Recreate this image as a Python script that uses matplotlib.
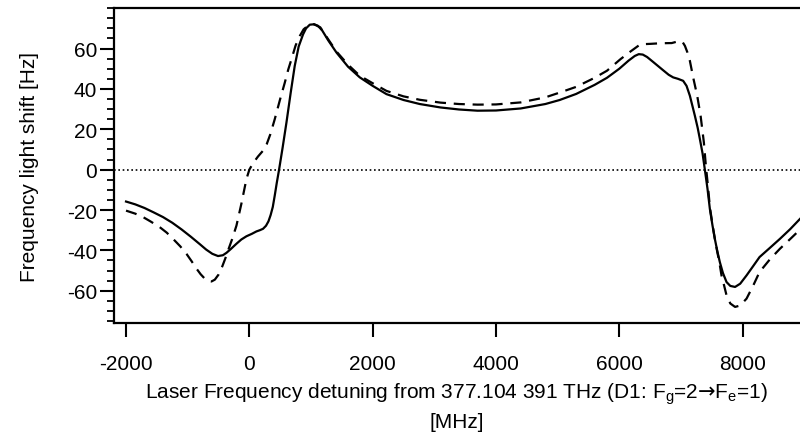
import matplotlib
matplotlib.use("Agg")
import matplotlib.pyplot as plt
from matplotlib.ticker import MultipleLocator

plt.rcParams["font.family"] = ["Liberation Sans", "DejaVu Sans"]
plt.rcParams["mathtext.fontset"] = "custom"
plt.rcParams["mathtext.rm"] = "Liberation Sans"
plt.rcParams["mathtext.it"] = "Liberation Sans"
plt.rcParams["mathtext.sf"] = "DejaVu Sans"
plt.rcParams["mathtext.default"] = "regular"
plt.rcParams["axes.unicode_minus"] = False

# detuning [MHz] and light shift [Hz]
solid_x = [-2000, -1850, -1700, -1550, -1400, -1250, -1100, -950, -800, -700, -600, -508,
           -430, -371, -300, -209, -130, -47, 40, 115, 170, 222, 270, 310, 345, 380, 412,
           445, 482, 540, 602, 670, 736, 800, 871, 920, 980, 1049, 1110, 1180, 1280, 1413,
           1600, 1791, 2000, 2224, 2500, 2764, 3100, 3400, 3700, 4000, 4400, 4800, 5033,
           5300, 5600, 5800, 6000, 6150, 6250, 6315, 6380, 6450, 6550, 6700, 6800, 6873,
           6950, 7035, 7090, 7144, 7190, 7225, 7270, 7306, 7350, 7387, 7430, 7468, 7510,
           7549, 7590, 7630, 7680, 7739, 7800, 7877, 7960, 8063, 8170, 8274, 8440, 8604,
           8770, 8930]
solid_y = [-15.8, -17.2, -19.0, -21.2, -23.5, -26.3, -29.6, -33.2, -37.0, -39.6, -41.7,
           -42.8, -42.4, -41.2, -39.3, -36.7, -34.6, -33.0, -31.8, -30.6, -30.0, -29.3,
           -27.8, -25.6, -22.5, -18.5, -12.8, -6.5, 0.0, 11.0, 23.4, 38.0, 51.4, 61.0,
           67.0, 70.0, 71.8, 72.0, 71.3, 69.0, 64.0, 58.0, 51.0, 45.7, 41.5, 37.4, 34.5,
           32.5, 30.8, 29.8, 29.2, 29.3, 30.3, 32.5, 34.5, 37.5, 42.0, 45.5, 50.0, 54.0,
           56.3, 57.2, 57.0, 55.8, 53.3, 49.5, 47.0, 45.7, 45.0, 44.0, 41.5, 36.6, 31.0,
           26.7, 20.8, 15.2, 8.0, 0.0, -9.5, -19.4, -27.5, -34.3, -40.5, -45.8, -51.2,
           -55.7, -57.6, -58.1, -56.5, -52.4, -47.8, -43.3, -38.8, -34.3, -29.5, -24.4]

dashed_x = [-2000, -1850, -1724, -1600, -1453, -1340, -1237, -1120, -1020, -940, -858,
            -790, -723, -670, -615, -560, -500, -440, -390, -345, -280, -209, -130, -47,
            0, 60, 140, 222, 280, 340, 412, 500, 574, 630, 683, 750, 818, 880, 950, 1049,
            1150, 1280, 1413, 1600, 1791, 2000, 2224, 2500, 2764, 3100, 3400, 3700, 4000,
            4400, 4800, 5045, 5300, 5600, 5800, 6018, 6180, 6342, 6500, 6667, 6850, 6983,
            7030, 7064, 7105, 7144, 7198, 7263, 7318, 7371, 7403, 7440, 7468, 7510, 7549,
            7590, 7620, 7657, 7700, 7739, 7800, 7877, 7960, 8063, 8170, 8274, 8440, 8604,
            8770, 8930]
dashed_y = [-20.3, -21.8, -23.5, -25.7, -28.5, -31.2, -34.3, -38.0, -41.7, -45.2, -49.0,
            -51.8, -54.0, -55.2, -55.4, -54.5, -52.0, -48.0, -44.0, -40.0, -34.5, -27.7,
            -17.0, -4.6, 0.0, 3.2, 6.5, 9.4, 12.5, 17.5, 25.0, 35.0, 43.0, 49.5, 54.7,
            61.5, 66.2, 69.5, 71.3, 72.0, 70.5, 64.5, 58.5, 52.0, 46.5, 42.8, 39.0, 36.3,
            34.6, 33.2, 32.5, 32.2, 32.3, 33.3, 35.8, 38.3, 41.0, 45.5, 49.0, 54.7, 58.5,
            62.1, 62.3, 62.6, 62.7, 63.8, 63.0, 61.3, 58.0, 53.9, 45.6, 36.6, 26.7, 13.5,
            2.0, -9.0, -18.5, -27.0, -34.3, -41.0, -45.5, -52.4, -57.5, -62.3, -66.3,
            -68.0, -67.3, -63.9, -57.5, -50.7, -44.5, -39.2, -34.4, -29.7]

xticks = [-2000, 0, 2000, 4000, 6000, 8000]
yticks = [-60, -40, -20, 0, 20, 40, 60]

fig = plt.figure(figsize=(8.0, 4.35), dpi=100)
ax = fig.add_axes([0.1425, 0.255, 0.8575, 0.724])

ax.axhline(0, color="black", linestyle=(0, (1, 1.6)), linewidth=1.2)
ax.plot(solid_x, solid_y, color="black", linewidth=1.6)
ax.plot(dashed_x, dashed_y, color="black", linewidth=1.6, linestyle=(0, (5, 3.5)))

ax.set_xlim(-2195, 8930)
ax.set_ylim(-76, 80)
ax.set_xticks(xticks)
ax.set_yticks(yticks)
ax.yaxis.set_minor_locator(MultipleLocator(5))

ax.spines["right"].set_visible(False)
for s in ["left", "bottom", "top"]:
    ax.spines[s].set_linewidth(1.6)

ax.tick_params(axis="both", which="major", direction="out", length=10,
               width=1.5, labelsize=15)
ax.tick_params(axis="x", which="major", pad=12)
ax.tick_params(axis="y", which="major", pad=2)
ax.tick_params(axis="y", which="minor", direction="out", length=5, width=1.3)

ax.set_xlabel("Laser Frequency detuning from 377.104 391 THz (D1: $F_g$=2$\\mathsf{\u2192}$$F_e$=1)\n[MHz]",
              fontsize=15, linespacing=1.38, labelpad=6)
ax.set_ylabel("Frequency light shift [Hz]", fontsize=15, labelpad=20)

fig.savefig("out.png", dpi=100)
